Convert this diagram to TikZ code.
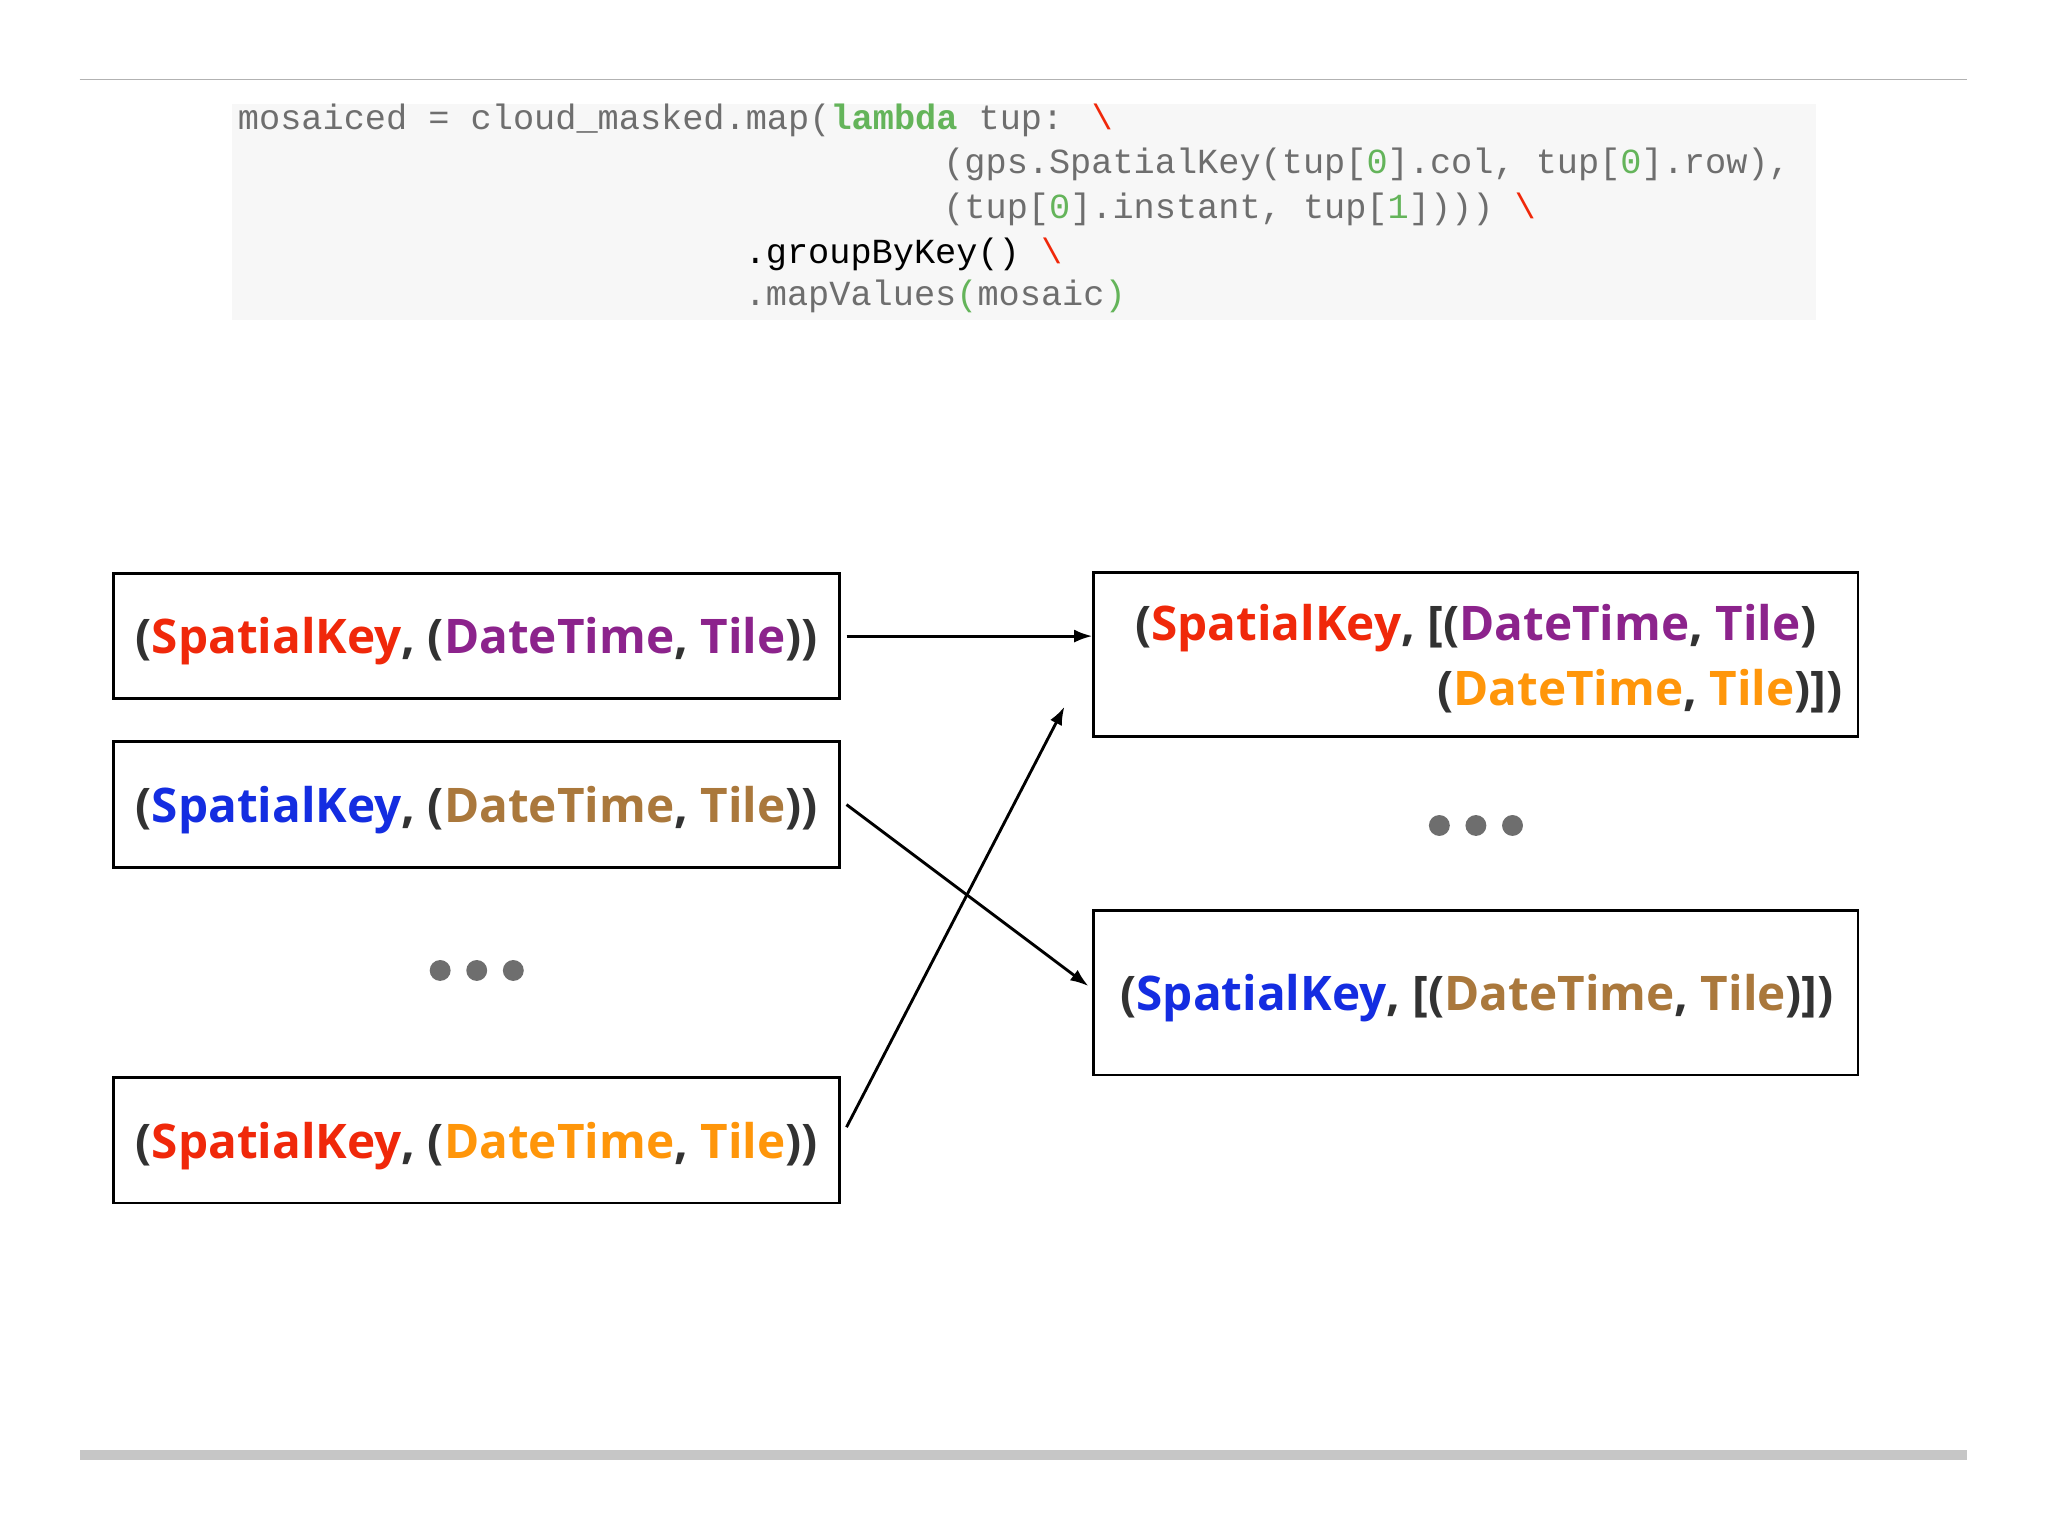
\documentclass[tikz,border=0pt]{standalone}
\usepackage{fontspec}
\setmainfont{Open Sans}
\newfontfamily\codefont{Liberation Mono}
\usetikzlibrary{arrows.meta}
\definecolor{cred}{RGB}{240,40,10}
\definecolor{cpur}{RGB}{140,35,140}
\definecolor{cblue}{RGB}{20,45,225}
\definecolor{cbrown}{RGB}{170,120,60}
\definecolor{corange}{RGB}{255,150,10}
\definecolor{cgreen}{RGB}{100,180,90}
\definecolor{cgray}{RGB}{110,110,110}
\definecolor{cdark}{RGB}{50,50,50}
\tikzset{
 bigtext/.style={font=\fontsize{36.5}{44}\selectfont\bfseries,text=cdark},
 box/.style={draw=black,line width=2.2pt,minimum width=556pt,inner sep=0pt,bigtext},
 rbox/.style={box,minimum width=585pt},
 arr/.style={-{Latex[length=14pt,width=10pt]},line width=2.2pt},
 dot/.style={circle,fill=cgray,minimum size=16pt,inner sep=0pt},
 code/.style={anchor=base west,inner sep=0pt,font=\codefont\fontsize{27}{30}\selectfont,text=cgray}
}
\begin{document}
\begin{tikzpicture}[x=1pt,y=-1pt]
\useasboundingbox[fill=white] (0,0) rectangle (1568,1176);
\draw[gray!60,line width=1pt] (61,61) -- (1506,61);
\fill[gray!45] (61,1110) rectangle (1506,1118);
\fill[gray!6] (178,80) rectangle (1390,245);
\node[code] (c1) at (182,99) {mosaiced = cloud\_masked.map(\textcolor{cgreen}{\bfseries lambda} tup: \textcolor{cred}{\textbackslash}};
\node[code] (c2) at (722,133) {(gps.SpatialKey(tup[\textcolor{cgreen}{0}].col, tup[\textcolor{cgreen}{0}].row),};
\node[code] (c3) at (722,167) {(tup[\textcolor{cgreen}{0}].instant, tup[\textcolor{cgreen}{1}]))) \textcolor{cred}{\textbackslash}};
\node[code,text=black] (c4) at (570,202) {.groupByKey() \textcolor{cred}{\textbackslash}};
\node[code] (c5) at (570,234) {.mapValues\textcolor{cgreen}{(}mosaic\textcolor{cgreen}{)}};

\node[box,minimum height=96pt] (l1) at (365,487) {};
\node[box,minimum height=96pt] (l2) at (365,616) {};
\node[box,minimum height=96pt] (l3) at (365,873) {};
\node[bigtext,anchor=base] (t1) at (365,500) {(\textcolor{cred}{SpatialKey}, (\textcolor{cpur}{DateTime}, \textcolor{cpur}{Tile}))};
\node[bigtext,anchor=base] (t2) at (365,630) {(\textcolor{cblue}{SpatialKey}, (\textcolor{cbrown}{DateTime}, \textcolor{cbrown}{Tile}))};
\node[bigtext,anchor=base] (t3) at (365,887) {(\textcolor{cred}{SpatialKey}, (\textcolor{corange}{DateTime}, \textcolor{corange}{Tile}))};
\node[rbox,minimum height=126pt] (r1) at (1130,501) {};
\node[bigtext,anchor=base west,inner sep=0pt] (r1a) at (869,490) {(\textcolor{cred}{SpatialKey}, [(\textcolor{cpur}{DateTime}, \textcolor{cpur}{Tile})};
\node[bigtext,anchor=base east,inner sep=0pt] (r1b) at (1411,540) {(\textcolor{corange}{DateTime}, \textcolor{corange}{Tile})])};
\node[rbox,minimum height=126pt] (r2) at (1130,760) {};
\node[bigtext,anchor=base] (t4) at (1131,774) {(\textcolor{cblue}{SpatialKey}, [(\textcolor{cbrown}{DateTime}, \textcolor{cbrown}{Tile})])};

\node[dot] (d1) at (337,743) {}; \node[dot] (d2) at (365,743) {}; \node[dot] (d3) at (393,743) {};
\node[dot] (d4) at (1102,632) {}; \node[dot] (d5) at (1130,632) {}; \node[dot] (d6) at (1158,632) {};

\coordinate (a1) at (815,541);
\draw[arr] (l1.east)++(4,0) -- (r1.west|-l1.east);
\draw[arr] ([shift={(4,0)}]l2.east) -- ([shift={(-3,-5)}]r2.west);
\draw[arr] ([shift={(4,-10)}]l3.east) -- (a1);
\end{tikzpicture}
\end{document}
